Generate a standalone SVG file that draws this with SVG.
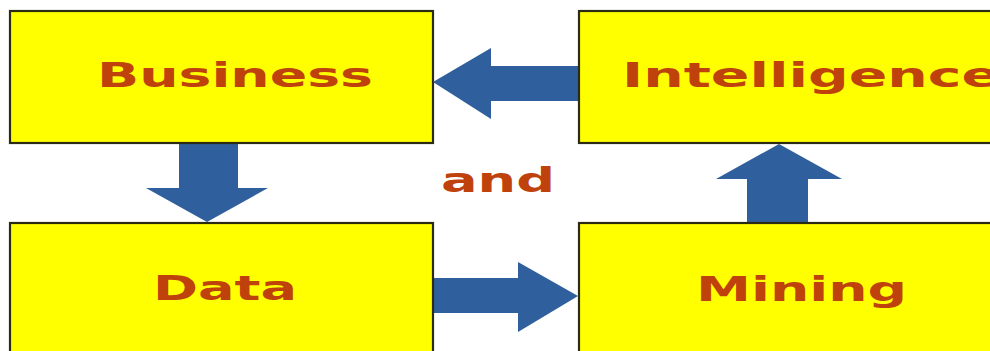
<svg xmlns="http://www.w3.org/2000/svg" width="990" height="351" viewBox="0 0 990 351">
<style>
.box{fill:#ffff00;stroke:#2b2b14;stroke-width:2.2}
.lbl{font-family:"DejaVu Sans",sans-serif;font-weight:bold;font-size:34px;fill:#bf420d}
.arr{fill:#2f5f9c}
</style>
<rect width="990" height="351" fill="#ffffff"/>
<g id="connectors">
<polygon class="arr" points="579,66 491,66 491,48 433,82 491,119 491,101 579,101"/>
<polygon class="arr" points="179,143 238,143 238,188 268,188 207,222 146,188 179,188"/>
<polygon class="arr" points="433,278 518,278 518,262 578,296 518,332 518,313 433,313"/>
<polygon class="arr" points="747,223 808,223 808,179 842,179 779,144 716,179 747,179"/>
</g>
<g id="business">
<rect class="box" x="10" y="11" width="423" height="132"/>
<text class="lbl" x="97" y="87" textLength="276" lengthAdjust="spacingAndGlyphs">Business</text>
</g>
<g id="intelligence">
<rect class="box" x="579" y="11" width="430" height="132"/>
<text class="lbl" x="622" y="87" textLength="378" lengthAdjust="spacingAndGlyphs">Intelligence</text>
</g>
<g id="data">
<rect class="box" x="10" y="223" width="423" height="140"/>
<text class="lbl" x="153" y="300" textLength="144" lengthAdjust="spacingAndGlyphs">Data</text>
</g>
<g id="mining">
<rect class="box" x="579" y="223" width="430" height="140"/>
<text class="lbl" x="696" y="301" textLength="211" lengthAdjust="spacingAndGlyphs">Mining</text>
</g>
<g id="and">
<text class="lbl" x="441" y="192" textLength="114" lengthAdjust="spacingAndGlyphs">and</text>
</g>
</svg>
